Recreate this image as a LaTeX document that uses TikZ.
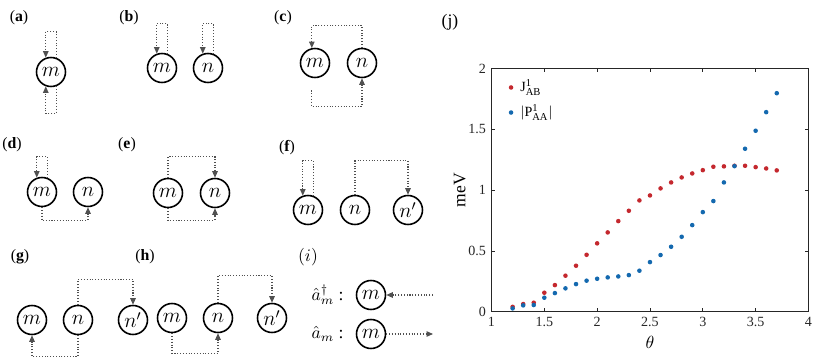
\documentclass[tikz,border=0pt]{standalone}
\usepackage{amsmath}
\usepackage{fontspec}
\setmainfont{Liberation Serif}
\usepackage{tikz}
\usetikzlibrary{arrows.meta,positioning,calc}
\definecolor{hopgray}{RGB}{80,80,80}
\definecolor{jred}{RGB}{196,40,46}
\definecolor{pblue}{RGB}{20,105,175}
\definecolor{axgray}{RGB}{38,38,38}
\tikzset{
  site/.style ={circle, draw=black, line width=0.9pt, minimum size=0.58cm,
                inner sep=0pt, font=\large},
  hop/.style  ={-{Triangle[length=1.3mm,width=1.1mm]}, draw=hopgray,
                densely dotted, line width=0.6pt},
  tag/.style  ={font=\small},
  tick/.style ={font=\footnotesize, text=axgray, inner sep=1pt},
  jdot/.style ={fill=jred},
  pdot/.style ={fill=pblue}
}

\begin{document}
\begin{tikzpicture}
\useasboundingbox (0,0) rectangle (16.62,7.24);
% (a)
\node[tag] (la) at (0.38,6.88) {(\textbf{a})};
\node[site] (am) at (1.02,5.80) {$m$};
\draw[hop] (am.70) -- ++(0,0.52) -| (am.110);
\draw[hop] (am.-70) -- ++(0,-0.54) -| (am.-110);
% (b)
\node[tag] (lb) at (2.58,6.88) {(\textbf{b})};
\node[site] (bm) at (3.24,5.88) {$m$};
\node[site] (bn) at (4.16,5.88) {$n$};
\draw[hop] (bm.70) -- ++(0,0.60) -| (bm.110);
\draw[hop] (bn.70) -- ++(0,0.60) -| (bn.110);
% (c)
\node[tag] (lc) at (5.66,6.88) {(\textbf{c})};
\node[site] (cm) at (6.30,5.98) {$m$};
\node[site] (cn) at (7.24,5.98) {$n$};
\draw[hop] (cn.north) -- ++(0,0.44) -| (cm.102);
\draw[hop, shorten <=0.25cm] (cm.258) -- ++(0,-0.57) -| (cn.south);
% (d)
\node[tag] (ld) at (0.24,4.34) {(\textbf{d})};
\node[site] (dm) at (0.84,3.40) {$m$};
\node[site] (dn) at (1.76,3.40) {$n$};
\draw[hop] (dm.70) -- ++(0,0.42) -| (dm.110);
\draw[hop] (dm.south) -- ++(0,-0.26) -| (dn.south);
% (e)
\node[tag] (le) at (2.54,4.34) {(\textbf{e})};
\node[site] (em) at (3.36,3.38) {$m$};
\node[site] (en) at (4.30,3.38) {$n$};
\draw[hop] (em.north) -- ++(0,0.42) -| (en.north);
\draw[hop] (em.south) -- ++(0,-0.24) -| (en.south);
% (f)
\node[tag] (lf) at (5.74,4.28) {(\textbf{f})};
\node[site] (fm) at (6.16,3.04) {$m$};
\node[site] (fn) at (7.10,3.04) {$n$};
\node[site] (fnp) at (8.16,3.04) {$n'$};
\draw[hop] (fm.70) -- ++(0,0.70) -| (fm.110);
\draw[hop] (fn.north) -- ++(0,0.68) -| (fnp.north);
% (g)
\node[tag] (lg) at (0.40,2.10) {(\textbf{g})};
\node[site] (gm) at (0.64,0.84) {$m$};
\node[site] (gn) at (1.56,0.84) {$n$};
\node[site] (gnp) at (2.66,0.84) {$n'$};
\draw[hop] (gn.north) -- ++(0,0.50) -| (gnp.north);
\draw[hop] (gn.south) -- ++(0,-0.42) -| (gm.south);
% (h)
\node[tag] (lh) at (2.90,2.10) {(\textbf{h})};
\node[site] (hm) at (3.44,0.88) {$m$};
\node[site] (hn) at (4.36,0.88) {$n$};
\node[site] (hnp) at (5.44,0.88) {$n'$};
\draw[hop] (hn.north) -- ++(0,0.54) -| (hnp.north);
\draw[hop] (hm.south) -- ++(0,-0.40) -| (hn.south);
% (i)
\node (li) at (6.16,2.10) {$(i)$};
\node[site] (im1) at (7.42,1.34) {$m$};
\node[site] (im2) at (7.42,0.56) {$m$};
\node[left=0.12cm of im1] (ia1) {$\hat{a}_m^{\dagger}$ :};
\node[left=0.12cm of im2] (ia2) {$\hat{a}_m$ :};
\coordinate (ie1) at (8.66,1.34);
\coordinate (ie2) at (8.66,0.56);
\draw[hop] (ie1) -- (im1);
\draw[hop] (im2) -- (ie2);
% (j)
\node (lj) at (9.0,6.80) {(j)};
\begin{scope}[xshift=7.717cm, yshift=1.006cm, x=2.113cm, y=2.432cm]
\draw[axgray, line width=0.5pt] (1,0) rectangle (4,2);
\foreach \x [count=\i] in {1,1.5,2,2.5,3,3.5,4} {
  \draw[axgray] (\x,0) -- ++(0,2pt) (\x,2) -- ++(0,-2pt);
  \node[tick, below=2pt] (xt\i) at (\x,0) {\x};
}
\foreach \y [count=\i] in {0,0.5,1,1.5,2} {
  \draw[axgray] (1,\y) -- ++(2pt,0) (4,\y) -- ++(-2pt,0);
  \node[tick, left=2pt] (yt\i) at (1,\y) {\y};
}
\node (xl) at (2.5,-0.25) {$\theta$};
\node[rotate=90] (yl) at (0.70,1) {meV};
\foreach \x/\y in {1.2/0.04,1.3/0.063,1.4/0.074,1.5/0.156,1.6/0.219,1.7/0.296,
  1.8/0.378,1.9/0.468,2.0/0.562,2.1/0.652,2.2/0.745,2.3/0.830,2.4/0.915,
  2.5/0.956,2.6/1.014,2.7/1.063,2.8/1.104,2.9/1.137,3.0/1.164,3.1/1.192,
  3.2/1.195,3.3/1.2,3.4/1.2,3.5/1.189,3.6/1.178,3.7/1.162}
  \fill[jdot] (\x,\y) circle (1.3pt);
\foreach \x/\y in {1.2/0.027,1.3/0.052,1.4/0.055,1.5/0.115,1.6/0.153,1.7/0.192,
  1.8/0.227,1.9/0.255,2.0/0.271,2.1/0.282,2.2/0.29,2.3/0.301,2.4/0.337,
  2.5/0.408,2.6/0.466,2.7/0.534,2.8/0.616,2.9/0.712,3.0/0.819,3.1/0.910,
  3.2/1.063,3.3/1.197,3.4/1.340,3.5/1.488,3.6/1.641,3.7/1.797}
  \fill[pdot] (\x,\y) circle (1.3pt);
\fill[jdot] (1.185,1.844) circle (1.3pt);
\fill[pdot] (1.185,1.638) circle (1.3pt);
\node[anchor=west, font=\footnotesize, inner sep=0pt] (lgj) at (1.27,1.844)
  {$\text{J}^{\text{1}}_{\text{AB}}$};
\node[anchor=west, font=\footnotesize, inner sep=0pt] (lgp) at (1.27,1.638)
  {$|\text{P}^{\text{1}}_{\text{AA}}|$};
\end{scope}
\end{tikzpicture}
\end{document}
